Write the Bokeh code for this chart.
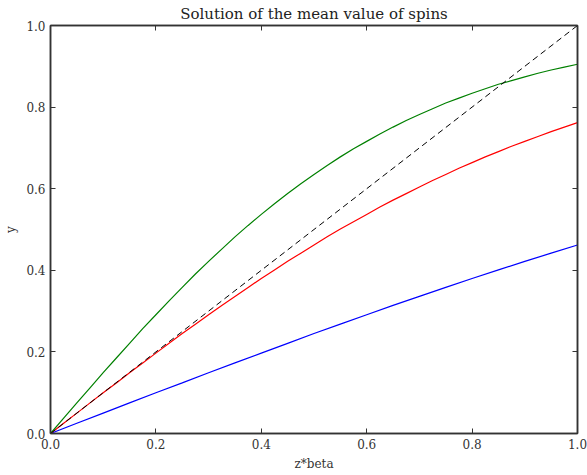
from bokeh.plotting import figure
from bokeh.models import LinearAxis, Range1d, FixedTicker
from bokeh.embed import file_html
from bokeh.resources import INLINE

x_coarse = [0.0, 0.05, 0.1, 0.15, 0.2, 0.25, 0.3, 0.35, 0.4, 0.45, 0.5,
            0.55, 0.6, 0.65, 0.7, 0.75, 0.8, 0.85, 0.9, 0.95, 1.0]
blue_y = [0.0, 0.025, 0.050, 0.075, 0.100, 0.124, 0.149, 0.173, 0.197, 0.221, 0.245,
          0.268, 0.291, 0.314, 0.336, 0.358, 0.380, 0.401, 0.422, 0.442, 0.462]
x_fine = [0.0, 0.025, 0.05, 0.075, 0.1, 0.125, 0.15, 0.175, 0.2, 0.225, 0.25,
          0.275, 0.3, 0.325, 0.35, 0.375, 0.4, 0.425, 0.45, 0.475, 0.5,
          0.525, 0.55, 0.575, 0.6, 0.625, 0.65, 0.675, 0.7, 0.725, 0.75,
          0.775, 0.8, 0.825, 0.85, 0.875, 0.9, 0.925, 0.95, 0.975, 1.0]
red_y = [0.0, 0.025, 0.050, 0.075, 0.100, 0.124, 0.149, 0.173, 0.197, 0.221, 0.245,
         0.268, 0.291, 0.314, 0.336, 0.358, 0.380, 0.401, 0.422, 0.442, 0.462,
         0.482, 0.501, 0.519, 0.537, 0.555, 0.572, 0.588, 0.604, 0.620, 0.635,
         0.650, 0.664, 0.678, 0.691, 0.704, 0.716, 0.728, 0.740, 0.751, 0.762]
green_y = [0.0, 0.0375, 0.075, 0.112, 0.149, 0.185, 0.221, 0.257, 0.291, 0.325, 0.358,
           0.391, 0.422, 0.452, 0.482, 0.510, 0.537, 0.563, 0.588, 0.612, 0.635,
           0.657, 0.678, 0.698, 0.716, 0.734, 0.751, 0.767, 0.782, 0.796, 0.810,
           0.822, 0.834, 0.845, 0.856, 0.865, 0.874, 0.883, 0.891, 0.898, 0.905]
diag_x = [0.0, 1.0]
diag_y = [0.0, 1.0]
ticks = [0.0, 0.2, 0.4, 0.6, 0.8, 1.0]
tick_labels = {0.0: "0.0", 0.2: "0.2", 0.4: "0.4", 0.6: "0.6", 0.8: "0.8", 1.0: "1.0"}

FONT = "DejaVu Serif"
AX = "#333333"

p = figure(width=587, height=475, output_backend="svg", toolbar_location=None,
           x_range=Range1d(0, 1), y_range=Range1d(0, 1),
           min_border_left=50, min_border_right=10, min_border_top=24, min_border_bottom=42,
           title="Solution of the mean value of spins")
p.title.align = "center"
p.title.text_font = FONT
p.title.text_font_size = "15px"
p.title.text_font_style = "normal"
p.title.text_color = "#222222"
p.title.standoff = 5
p.title.offset = 0

p.grid.visible = False
p.outline_line_color = AX
p.outline_line_width = 1.5
p.background_fill_color = "white"
p.border_fill_color = "white"

p.line(x_coarse, blue_y, line_color="blue", line_width=1.2)
p.line(x_fine, red_y, line_color="red", line_width=1.2)
p.line(x_fine, green_y, line_color="green", line_width=1.2)
p.line(diag_x, diag_y, line_color="black", line_width=1.0, line_dash="6 4")

def style(ax, labels=True):
    ax.ticker = FixedTicker(ticks=ticks)
    ax.major_label_overrides = tick_labels
    ax.minor_tick_line_color = None
    ax.major_tick_in = 5
    ax.major_tick_out = 0
    ax.major_tick_line_color = AX
    ax.major_tick_line_width = 1
    ax.axis_line_color = AX
    ax.axis_line_width = 1.5
    ax.major_label_text_font = FONT
    ax.major_label_text_color = "#333333"
    if labels:
        ax.major_label_text_font_size = "12px"
        ax.major_label_standoff = 5
    else:
        ax.major_label_text_font_size = "0px"
        ax.major_label_standoff = 0
        ax.major_label_text_alpha = 0

style(p.xaxis[0])
style(p.yaxis[0])
p.xaxis[0].axis_label = "z*beta"
p.yaxis[0].axis_label = "y"
for ax in (p.xaxis[0], p.yaxis[0]):
    ax.axis_label_text_font = FONT
    ax.axis_label_text_font_size = "12px"
    ax.axis_label_text_font_style = "normal"
    ax.axis_label_text_color = "#333333"
    ax.axis_label_standoff = 5

top = LinearAxis()
right = LinearAxis()
style(top, labels=False)
style(right, labels=False)
p.add_layout(top, "above")
p.add_layout(right, "right")

open("out.html", "w").write(file_html(p, INLINE))
